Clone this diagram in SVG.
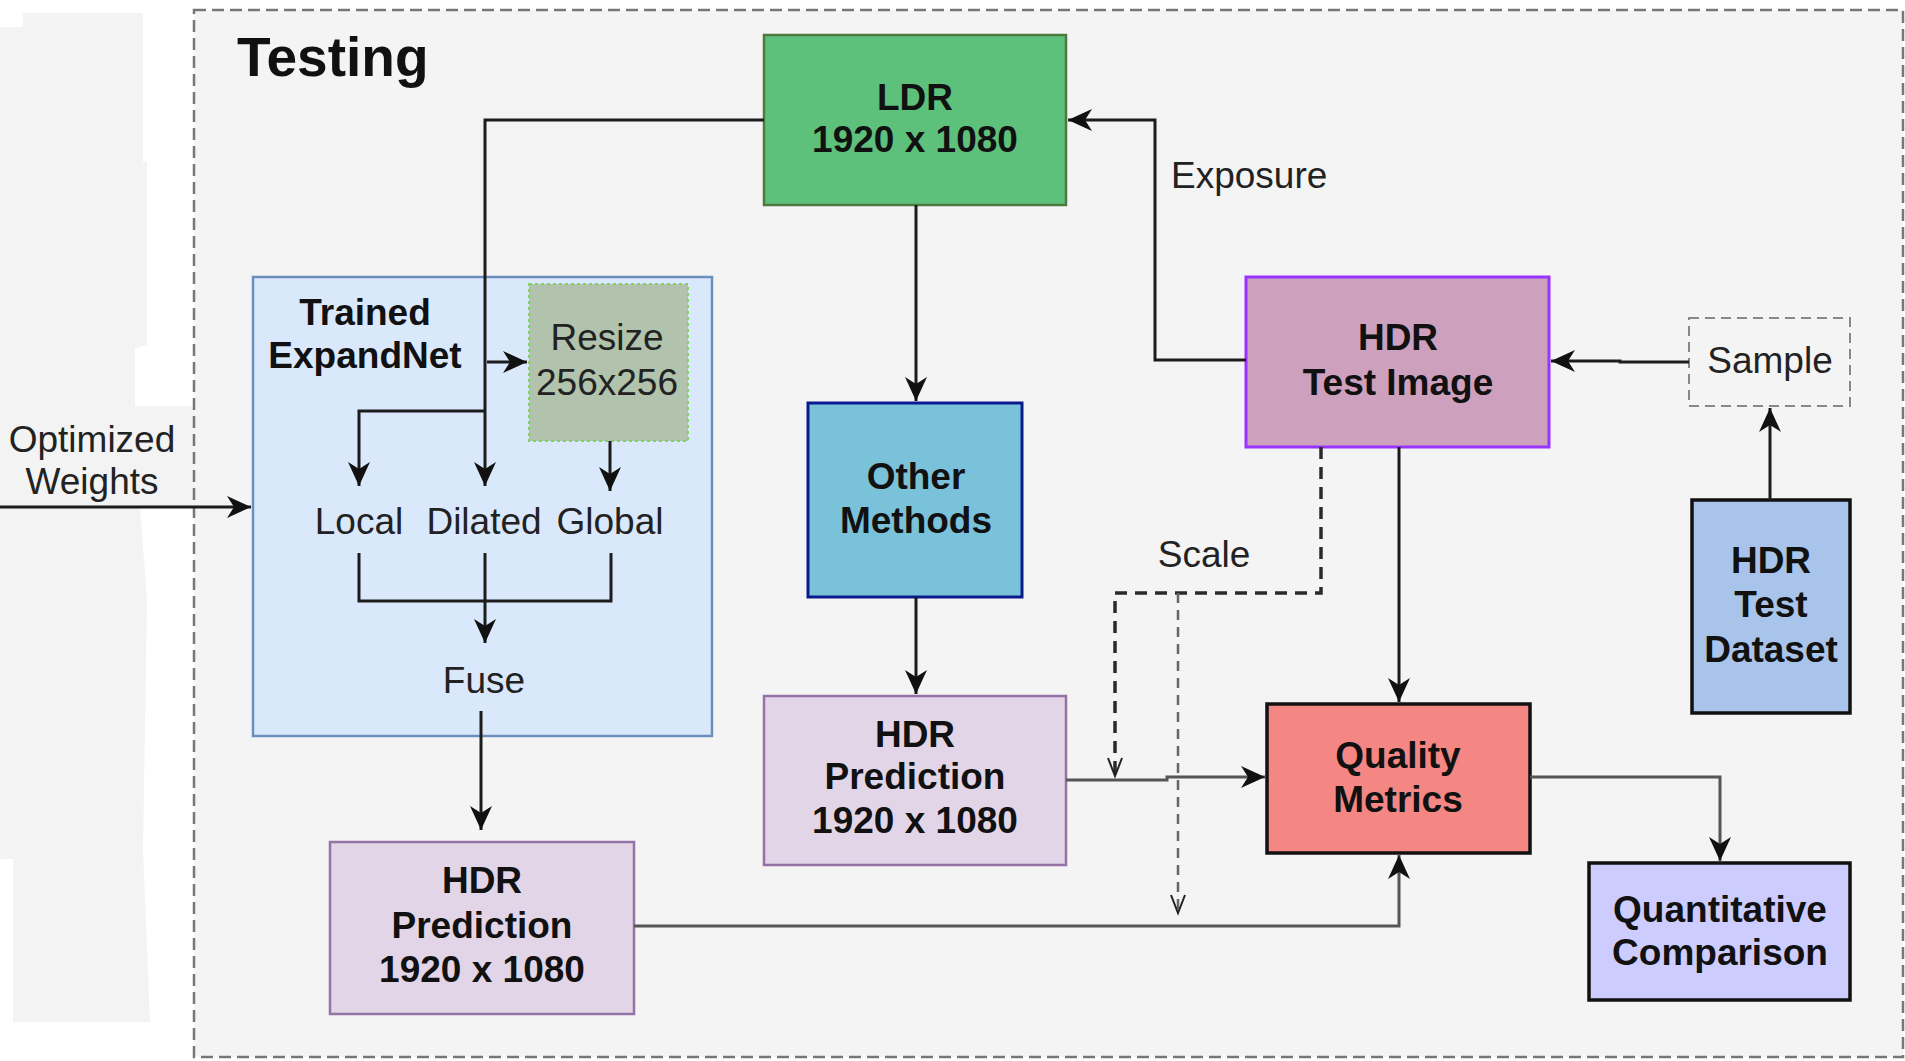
<svg xmlns="http://www.w3.org/2000/svg" width="1905" height="1061" viewBox="0 0 1905 1061">
  <defs>
    <style>
      text { font-family: "Liberation Sans", Arial, sans-serif; font-size: 37px; fill: #111; }
      .b { font-weight: bold; }
      .c { text-anchor: middle; }
      .r { fill: #222; }
      .wire { fill: none; stroke: #1c1c1c; stroke-width: 3; marker-end: url(#arr); }
      .wire-n { fill: none; stroke: #1c1c1c; stroke-width: 3; }
      .grey { stroke: #555; }
      .dash-a { fill: none; stroke: #2a2a2a; stroke-width: 3.5; stroke-dasharray: 12 8; }
      .dash-b { fill: none; stroke: #666; stroke-width: 2.5; stroke-dasharray: 10 7; }
    </style>
    <marker id="arr" markerUnits="userSpaceOnUse" markerWidth="26" markerHeight="24" refX="24" refY="11" orient="auto" overflow="visible">
      <path d="M0,0 L24,11 L0,22 L7,11 Z" fill="#111"/>
    </marker>
    <marker id="open" markerUnits="userSpaceOnUse" markerWidth="22" markerHeight="16" refX="20" refY="7" orient="auto" overflow="visible">
      <path d="M2,0 L20,7 L2,14" fill="none" stroke="#222" stroke-width="2"/>
    </marker>
  </defs>

  <!-- page -->
  <rect x="0" y="0" width="1905" height="1061" fill="#ffffff"/>
  <path d="M0,27 L23,27 L23,13 L143,13 L143,162 L147,162 L147,345 L135,348 L135,406 L194,406 L194,507 L140,507 L147,600 L143,850 L150,1022 L13,1022 L13,859 L0,859 Z" fill="#f3f3f3"/>

  <!-- Testing panel -->
  <g id="testing-panel">
    <rect x="194" y="10" width="1709" height="1047" fill="#f4f4f4" stroke="#777" stroke-width="2.5" stroke-dasharray="12 6"/>
    <text x="237" y="76" class="b" style="font-size:55px">Testing</text>
  </g>

  <!-- Trained ExpandNet container -->
  <g id="expandnet">
    <rect x="253" y="277" width="459" height="459" fill="#dae8fc" stroke="#6c8ebf" stroke-width="2.5"/>
    <text x="365" y="325" class="b c">Trained</text>
    <text x="365" y="368" class="b c">ExpandNet</text>
  </g>

  <g id="resize">
    <rect x="529" y="284" width="159" height="157" fill="#b1c3ac" stroke="#7fd35f" stroke-width="2" stroke-dasharray="3 3"/>
    <text x="607" y="350" class="c r">Resize</text>
    <text x="607" y="395" class="c r">256x256</text>
  </g>

  <g id="branches">
    <text x="359" y="534" class="c r">Local</text>
    <text x="484" y="534" class="c r">Dilated</text>
    <text x="610" y="534" class="c r">Global</text>
  </g>

  <g id="fuse">
    <text x="484" y="693" class="c r">Fuse</text>
  </g>

  <g id="optimized-weights">
    <text x="92" y="452" class="c r">Optimized</text>
    <text x="92" y="494" class="c r">Weights</text>
  </g>

  <g id="hdr-pred-expandnet">
    <rect x="330" y="842" width="304" height="172" fill="#e1d5e7" stroke="#9673a6" stroke-width="2.5"/>
    <text x="482" y="893" class="b c">HDR</text>
    <text x="482" y="938" class="b c">Prediction</text>
    <text x="482" y="982" class="b c">1920 x 1080</text>
  </g>

  <g id="ldr">
    <rect x="764" y="35" width="302" height="170" fill="#5dc17c" stroke="#4d7a3e" stroke-width="2.5"/>
    <text x="915" y="110" class="b c">LDR</text>
    <text x="915" y="152" class="b c">1920 x 1080</text>
  </g>

  <g id="other-methods">
    <rect x="808" y="403" width="214" height="194" fill="#7ac1da" stroke="#0b1a8e" stroke-width="3"/>
    <text x="916" y="489" class="b c">Other</text>
    <text x="916" y="533" class="b c">Methods</text>
  </g>

  <g id="hdr-pred-other">
    <rect x="764" y="696" width="302" height="169" fill="#e1d5e7" stroke="#9673a6" stroke-width="2.5"/>
    <text x="915" y="747" class="b c">HDR</text>
    <text x="915" y="789" class="b c">Prediction</text>
    <text x="915" y="833" class="b c">1920 x 1080</text>
  </g>

  <g id="hdr-test-image">
    <rect x="1246" y="277" width="303" height="170" fill="#cda0bd" stroke="#9933ff" stroke-width="3"/>
    <text x="1398" y="350" class="b c">HDR</text>
    <text x="1398" y="395" class="b c">Test Image</text>
  </g>

  <g id="sample">
    <rect x="1689" y="318" width="161" height="88" fill="none" stroke="#888" stroke-width="2" stroke-dasharray="10 6"/>
    <text x="1770" y="373" class="c r">Sample</text>
  </g>

  <g id="hdr-test-dataset">
    <rect x="1692" y="500" width="158" height="213" fill="#a9c4eb" stroke="#111" stroke-width="3.5"/>
    <text x="1771" y="573" class="b c">HDR</text>
    <text x="1771" y="617" class="b c">Test</text>
    <text x="1771" y="662" class="b c">Dataset</text>
  </g>

  <g id="quality-metrics">
    <rect x="1267" y="704" width="263" height="149" fill="#f48683" stroke="#111" stroke-width="3.5"/>
    <text x="1398" y="768" class="b c">Quality</text>
    <text x="1398" y="812" class="b c">Metrics</text>
  </g>

  <g id="quantitative-comparison">
    <rect x="1589" y="863" width="261" height="137" fill="#ccccff" stroke="#111" stroke-width="3.5"/>
    <text x="1720" y="922" class="b c">Quantitative</text>
    <text x="1720" y="965" class="b c">Comparison</text>
  </g>

  <!-- connectors -->
  <g id="connectors">
    <path class="wire" d="M0,507 H251"/>
    <path class="wire" d="M764,120 H485 V486"/>
    <path class="wire" d="M485,411 H359 V486"/>
    <path class="wire" d="M487,362 H527"/>
    <path class="wire" d="M610,441 V491"/>
    <path class="wire-n" d="M359,553 V601 H611 V553"/>
    <path class="wire" d="M485,553 V643"/>
    <path class="wire" d="M481,711 V830"/>
    <path class="wire" d="M916,205 V401"/>
    <path class="wire" d="M916,597 V694"/>
    <path class="wire" d="M1246,360 H1155 V120 H1068"/>
    <path class="wire" d="M1689,362 H1620 V361 H1551"/>
    <path class="wire" d="M1770,500 V408"/>
    <path class="wire" d="M1399,447 V702"/>
    <path class="wire grey" d="M1066,780 H1167 V777 H1265"/>
    <path class="wire grey" d="M634,926 H1399 V855"/>
    <path class="wire grey" d="M1530,777 H1720 V861"/>
    <!-- scale paths -->
    <path class="dash-a" d="M1321,447 V593 H1115 V776" marker-end="url(#open)"/>
    <path class="dash-b" d="M1178,593 V913" marker-end="url(#open)"/>
    <text x="1171" y="188" class="r">Exposure</text>
    <text x="1204" y="567" class="c r">Scale</text>
  </g>
</svg>
